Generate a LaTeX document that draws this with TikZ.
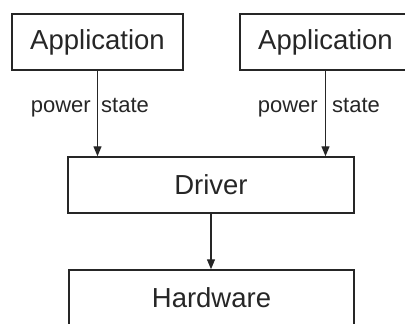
\documentclass[tikz,border=0pt]{standalone}
\usepackage{fontspec}
\setmainfont{Liberation Sans}
\usetikzlibrary{arrows.meta}
\definecolor{ink}{HTML}{262626}
\begin{document}
\begin{tikzpicture}[x=1pt,y=-1pt,
  box/.style={draw=ink, line width=1.5pt, rectangle, inner sep=0pt, text=ink,
    font=\fontsize{27.5}{33}\selectfont},
  lbl/.style={text=ink, inner sep=0pt, font=\fontsize{22}{26}\selectfont},
  arr/.style={draw=ink, line width=1.4pt, -{Triangle[length=10pt,width=8pt]}}]
\useasboundingbox (0,0) rectangle (405,324);
\clip (0,0) rectangle (405,324);
\node[box, minimum width=171pt, minimum height=56pt] (app1) at (97.5,42) {Application};
\node[box, minimum width=171pt, minimum height=56pt] (app2) at (325.5,42) {Application};
\node[box, minimum width=286pt, minimum height=56pt] (drv) at (211,185) {Driver};
\node[box, minimum width=285pt, minimum height=56pt] (hw) at (211.5,298) {Hardware};
\draw[arr] (app1.south) -- (app1.south |- drv.north);
\draw[arr] (app2.south) -- (app2.south |- drv.north);
\draw[arr] (drv.south) -- (drv.south |- hw.north);
\node[lbl, anchor=base east] (p1) at (91,112) {power};
\node[lbl, anchor=base west] (s1) at (101,112) {state};
\node[lbl, anchor=base east] (p2) at (318,112) {power};
\node[lbl, anchor=base west] (s2) at (332,112) {state};
\end{tikzpicture}
\end{document}
